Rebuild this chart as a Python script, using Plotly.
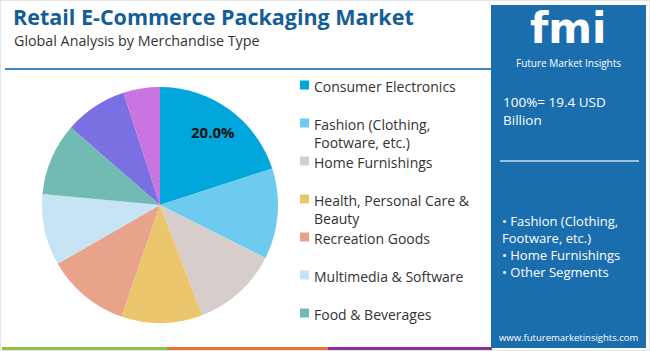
import math
import plotly.graph_objects as go

W, H = 650, 351

# ---- data ----
segments = ["Consumer Electronics", "Fashion (Clothing, Footware, etc.)", "Home Furnishings",
            "Health, Personal Care & Beauty", "Recreation Goods", "Multimedia & Software",
            "Food & Beverages", "Automotive", "Others"]
shares = [20.0, 12.4, 11.8, 11.1, 11.4, 9.8, 9.9, 8.6, 5.0]
colors = ["#00A6DC", "#6DCBF0", "#D7CDCB", "#EBC66C", "#EAA38B", "#C6E4F4",
          "#72BBB5", "#7B70E1", "#C974E1"]
shown_label = [True, False, False, False, False, False, False, False, False]

legend_labels = ["Consumer Electronics", "Fashion (Clothing,<br>Footware, etc.)", "Home Furnishings",
                 "Health, Personal Care &<br>Beauty", "Recreation Goods", "Multimedia & Software",
                 "Food & Beverages"]

title = "Retail E-Commerce Packaging Market"
subtitle = "Global Analysis by Merchandise Type"
total_text = "100%= 19.4 USD<br>Billion"
key_segments = ["• Fashion (Clothing,<br>Footware, etc.)", "• Home Furnishings", "• Other Segments"]
website = "www.futuremarketinsights.com"

FONT = "Open Sans"


def px(x):
    return x / W


def py(y):
    return 1 - y / H


fig = go.Figure()

cx, cy, r = 160, 205, 118
fig.add_trace(go.Pie(
    labels=segments, values=shares, sort=False, direction="clockwise", rotation=0,
    marker=dict(colors=colors, line=dict(width=0)),
    textinfo="none",
    domain=dict(x=[px(cx - r), px(cx + r)], y=[py(cy + r), py(cy - r)]),
    showlegend=False, hoverinfo="label+percent",
))

shapes = []
annotations = []

# percentage labels placed at each shown slice's mid-angle
total = sum(shares)
cum = 0.0
for v, show in zip(shares, shown_label):
    mid = (cum + v / 2) / total * 2 * math.pi
    cum += v
    if show:
        rr = 0.76 * r
        lx = cx + rr * math.sin(mid)
        ly = cy - rr * math.cos(mid)
        annotations.append(dict(text="<b>%.1f%%</b>" % (v / total * 100), x=px(lx), y=py(ly),
                                xref="paper", yref="paper", xanchor="center", yanchor="middle",
                                showarrow=False, font=dict(family=FONT, size=15, color="#111111")))

# page border
shapes.append(dict(type="rect", xref="paper", yref="paper", x0=0, x1=1, y0=0, y1=1,
                   line=dict(color="#DDDDDD", width=1.5), layer="below"))

# title
annotations.append(dict(text="<b>" + title + "</b>", x=px(11), y=py(17), xref="paper", yref="paper",
                        xanchor="left", yanchor="middle", showarrow=False,
                        font=dict(family=FONT, size=21.5, color="#135E97")))
annotations.append(dict(text=subtitle, x=px(12), y=py(41), xref="paper", yref="paper",
                        xanchor="left", yanchor="middle", showarrow=False,
                        font=dict(family=FONT, size=14.3, color="#333333")))
shapes.append(dict(type="line", xref="paper", yref="paper", x0=px(5), x1=px(491), y0=py(69), y1=py(69),
                   line=dict(color="#3F88C5", width=2)))

# bottom bar
for x0, x1, c in [(2, 167, "#8BC34A"), (167, 328, "#E8713C"), (328, 492, "#8E2C9B")]:
    shapes.append(dict(type="line", xref="paper", yref="paper", x0=px(x0), x1=px(x1), y0=py(348.5), y1=py(348.5),
                       line=dict(color=c, width=3)))

# legend
for i, lab in enumerate(legend_labels):
    yc = 85 + 38 * i
    shapes.append(dict(type="rect", xref="paper", yref="paper", x0=px(300), x1=px(309),
                       y0=py(yc + 4.5), y1=py(yc - 4.5), fillcolor=colors[i], line=dict(width=0)))
    annotations.append(dict(text=lab, x=px(312), y=py(yc - 10), xref="paper", yref="paper",
                            xanchor="left", yanchor="top", align="left", showarrow=False,
                            font=dict(family=FONT, size=14, color="#333333")))

# right panel
shapes.append(dict(type="rect", xref="paper", yref="paper", x0=px(491), x1=px(646), y0=py(348), y1=py(5),
                   fillcolor="#1B6EAE", line=dict(width=0)))
annotations.append(dict(text="<b>fmi</b>", x=px(568), y=py(29), xref="paper", yref="paper",
                        xanchor="center", yanchor="middle", showarrow=False,
                        font=dict(family="DejaVu Sans", size=42, color="#FFFFFF")))
annotations.append(dict(text="Future Market Insights", x=px(568), y=py(63), xref="paper", yref="paper",
                        xanchor="center", yanchor="middle", showarrow=False,
                        font=dict(family=FONT, size=10, color="#FFFFFF")))
annotations.append(dict(text=total_text, x=px(501), y=py(91), xref="paper", yref="paper",
                        xanchor="left", yanchor="top", align="left", showarrow=False,
                        font=dict(family=FONT, size=13.5, color="#FFFFFF")))
shapes.append(dict(type="line", xref="paper", yref="paper", x0=px(500), x1=px(639), y0=py(161), y1=py(161),
                   line=dict(color="#C9DCEB", width=1.5)))
annotations.append(dict(text="<br>".join(key_segments), x=px(500), y=py(210), xref="paper", yref="paper",
                        xanchor="left", yanchor="top", align="left", showarrow=False,
                        font=dict(family=FONT, size=13, color="#FFFFFF")))
annotations.append(dict(text=website, x=px(569), y=py(337), xref="paper", yref="paper",
                        xanchor="center", yanchor="middle", showarrow=False,
                        font=dict(family=FONT, size=9.5, color="#FFFFFF")))

fig.update_layout(
    width=W, height=H, margin=dict(l=0, r=0, t=0, b=0),
    paper_bgcolor="#FFFFFF", plot_bgcolor="#FFFFFF",
    shapes=shapes, annotations=annotations,
    font=dict(family=FONT),
)

fig.write_html("out.html")
